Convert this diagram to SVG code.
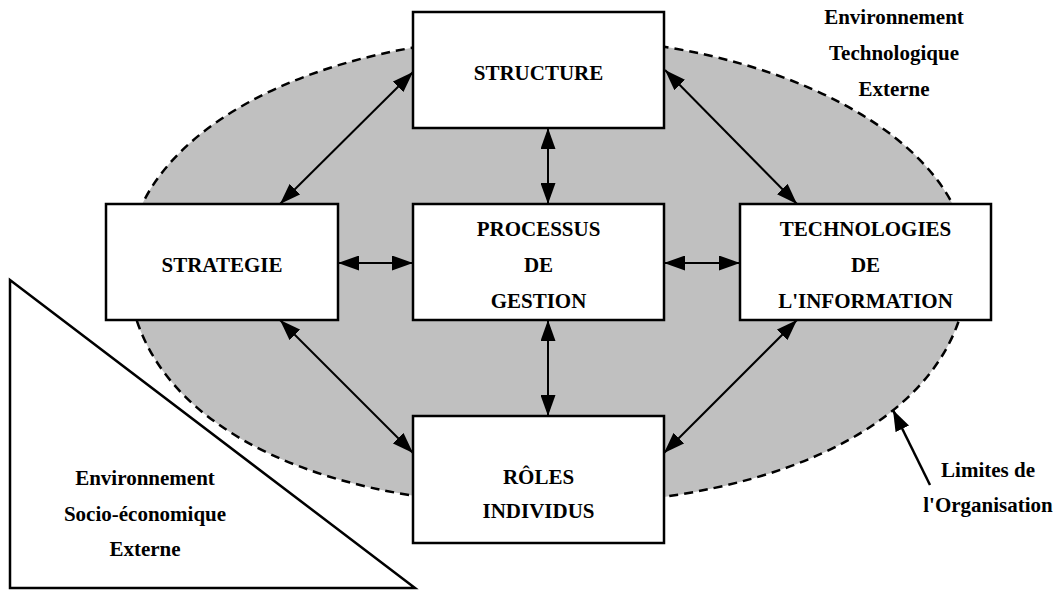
<svg xmlns="http://www.w3.org/2000/svg" width="1058" height="590" viewBox="0 0 1058 590">
<style>
.box{fill:#fff;stroke:#000;stroke-width:2.5}
.lbl{font-family:"Liberation Serif","Times New Roman",serif;font-weight:bold;font-size:21px;text-anchor:middle;fill:#000}
.con{stroke:#000;stroke-width:2;fill:none;marker-start:url(#ah);marker-end:url(#ah)}
.one{stroke:#000;stroke-width:2.5;fill:none;marker-end:url(#ah)}
</style>
<defs>
<marker id="ah" markerUnits="userSpaceOnUse" markerWidth="21" markerHeight="15" refX="21" refY="7.5" orient="auto-start-reverse">
<path d="M0,0 L21,7.5 L0,15 z" fill="#000"/>
</marker>
</defs>
<rect width="1058" height="590" fill="#fff"/>
<g id="organisation">
<path d="M540,37 C776,37 968,139 968,265 C968,409 797,505 540,505 C293,505 128,409 128,265 C128,137 309,37 540,37 Z" fill="#c0c0c0" stroke="#000" stroke-width="2.5" stroke-dasharray="9,6"/>
</g>
<g id="env-socio">
<polygon points="10,280 10,588 415,588" fill="#fff" stroke="#000" stroke-width="2.5"/>
<text class="lbl" x="145" y="485">Environnement</text>
<text class="lbl" x="145" y="521">Socio-économique</text>
<text class="lbl" x="145" y="556">Externe</text>
</g>
<g id="env-techno">
<text class="lbl" x="894" y="24">Environnement</text>
<text class="lbl" x="894" y="60">Technologique</text>
<text class="lbl" x="894" y="96">Externe</text>
</g>
<g id="limites">
<text class="lbl" x="988" y="477">Limites de</text>
<text class="lbl" x="988" y="512">l'Organisation</text>
</g>
<g id="structure">
<rect class="box" x="413" y="12" width="251" height="116"/>
<text class="lbl" x="538.5" y="80">STRUCTURE</text>
</g>
<g id="strategie">
<rect class="box" x="106" y="204" width="232" height="116"/>
<text class="lbl" x="222" y="272">STRATEGIE</text>
</g>
<g id="processus">
<rect class="box" x="413" y="204" width="251" height="116"/>
<text class="lbl" x="538.5" y="236">PROCESSUS</text>
<text class="lbl" x="538.5" y="272">DE</text>
<text class="lbl" x="538.5" y="308">GESTION</text>
</g>
<g id="technologies">
<rect class="box" x="740" y="204" width="251" height="116"/>
<text class="lbl" x="865.5" y="236">TECHNOLOGIES</text>
<text class="lbl" x="865.5" y="272">DE</text>
<text class="lbl" x="865.5" y="308">L'INFORMATION</text>
</g>
<g id="roles">
<rect class="box" x="413" y="416" width="251" height="127"/>
<text class="lbl" x="538.5" y="484">RÔLES</text>
<text class="lbl" x="538.5" y="518">INDIVIDUS</text>
</g>
<g id="connectors">
<line class="con" x1="413" y1="72" x2="280" y2="204"/>
<line class="con" x1="665" y1="70" x2="797" y2="204"/>
<line class="con" x1="548" y1="128" x2="548" y2="204"/>
<line class="con" x1="338" y1="263" x2="413" y2="263"/>
<line class="con" x1="664" y1="263" x2="740" y2="263"/>
<line class="con" x1="548" y1="320" x2="548" y2="416"/>
<line class="con" x1="280" y1="320" x2="413" y2="453"/>
<line class="con" x1="797" y1="320" x2="664" y2="453"/>
<line class="one" x1="930" y1="485" x2="893" y2="410"/>
</g>
</svg>
